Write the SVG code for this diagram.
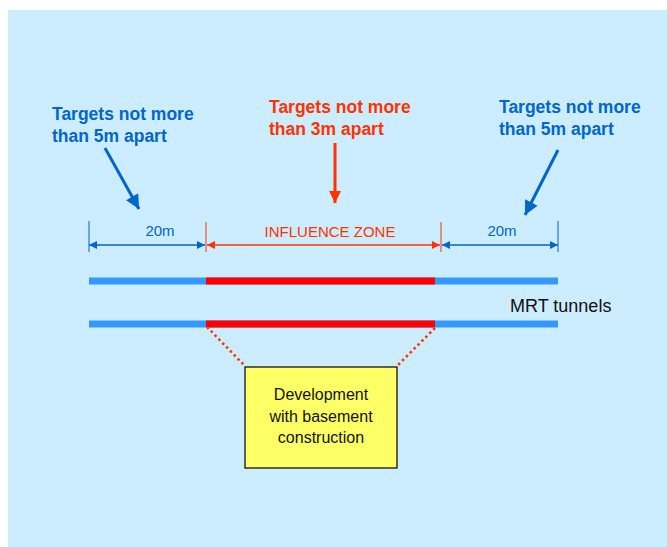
<svg xmlns="http://www.w3.org/2000/svg" width="667" height="547" viewBox="0 0 667 547">
<style>
.lbl{font-family:"Liberation Sans",Arial,sans-serif;font-weight:bold;font-size:17.5px}
.blue{fill:#0066CC}
.red{fill:#FF3300}
.dim{font-family:"Liberation Sans",Arial,sans-serif;font-size:15px}
.box{font-family:"Liberation Sans",Arial,sans-serif;font-size:16px;fill:#111;text-anchor:middle}
</style>
<defs>
<marker id="dbS" viewBox="0 0 10 10" refX="0" refY="5" markerWidth="8" markerHeight="8" markerUnits="userSpaceOnUse" orient="auto"><path d="M10,0 L0,5 L10,10 z" fill="#0066CC"/></marker>
<marker id="dbE" viewBox="0 0 10 10" refX="10" refY="5" markerWidth="8" markerHeight="8" markerUnits="userSpaceOnUse" orient="auto"><path d="M0,0 L10,5 L0,10 z" fill="#0066CC"/></marker>
<marker id="drS" viewBox="0 0 10 10" refX="0" refY="5" markerWidth="8" markerHeight="8" markerUnits="userSpaceOnUse" orient="auto"><path d="M10,0 L0,5 L10,10 z" fill="#FF3300"/></marker>
<marker id="drE" viewBox="0 0 10 10" refX="10" refY="5" markerWidth="8" markerHeight="8" markerUnits="userSpaceOnUse" orient="auto"><path d="M0,0 L10,5 L0,10 z" fill="#FF3300"/></marker>
<marker id="cb" viewBox="0 0 10 10" refX="10" refY="5" markerWidth="15" markerHeight="14" markerUnits="userSpaceOnUse" orient="auto"><path d="M0,0 L10,5 L0,10 z" fill="#0066CC"/></marker>
<marker id="cr" viewBox="0 0 10 10" refX="10" refY="5" markerWidth="14" markerHeight="12" markerUnits="userSpaceOnUse" orient="auto"><path d="M0,0 L10,5 L0,10 z" fill="#FF3300"/></marker>
</defs>
<rect x="8" y="10" width="659" height="537" fill="#CCECFF"/>

<g id="label-left">
<text class="lbl blue" x="52" y="120">Targets not more</text>
<text class="lbl blue" x="52" y="142">than 5m apart</text>
</g>
<g id="label-middle">
<text class="lbl red" x="269" y="113">Targets not more</text>
<text class="lbl red" x="269" y="135">than 3m apart</text>
</g>
<g id="label-right">
<text class="lbl blue" x="499" y="113">Targets not more</text>
<text class="lbl blue" x="499" y="135">than 5m apart</text>
</g>

<g id="tunnels">
<line x1="89" y1="281" x2="558" y2="281" stroke="#3399FF" stroke-width="7"/>
<line x1="206" y1="281" x2="435" y2="281" stroke="#FF0000" stroke-width="7"/>
<line x1="89" y1="324" x2="558" y2="324" stroke="#3399FF" stroke-width="7"/>
<line x1="206" y1="324" x2="435" y2="324" stroke="#FF0000" stroke-width="7"/>
<text x="510" y="312" font-family="'Liberation Sans',Arial,sans-serif" font-size="18" fill="#111">MRT tunnels</text>
</g>

<g id="development">
<rect x="245" y="367" width="152" height="101" fill="#FFFF66" stroke="#000" stroke-width="1.2"/>
<text class="box" x="321" y="400">Development</text>
<text class="box" x="321" y="422">with basement</text>
<text class="box" x="321" y="443">construction</text>
</g>

<g id="dimensions">
<line x1="89" y1="221" x2="89" y2="252" stroke="#0066CC" stroke-width="1"/>
<line x1="558" y1="221" x2="558" y2="252" stroke="#0066CC" stroke-width="1"/>
<line x1="206" y1="222" x2="206" y2="252" stroke="#FF3300" stroke-width="1"/>
<line x1="441" y1="222" x2="441" y2="252" stroke="#FF3300" stroke-width="1"/>
<line x1="89" y1="245" x2="205" y2="245" stroke="#0066CC" stroke-width="1.3" marker-start="url(#dbS)" marker-end="url(#dbE)"/>
<line x1="207" y1="245" x2="440" y2="245" stroke="#FF3300" stroke-width="1.3" marker-start="url(#drS)" marker-end="url(#drE)"/>
<line x1="442" y1="245" x2="558" y2="245" stroke="#0066CC" stroke-width="1.3" marker-start="url(#dbS)" marker-end="url(#dbE)"/>
<text class="dim blue" x="160" y="236" text-anchor="middle">20m</text>
<text class="dim red" x="330" y="237" text-anchor="middle">INFLUENCE ZONE</text>
<text class="dim blue" x="502" y="236" text-anchor="middle">20m</text>
</g>

<g id="connectors">
<line x1="105" y1="148" x2="139" y2="209" stroke="#0066CC" stroke-width="3" marker-end="url(#cb)"/>
<line x1="335" y1="143" x2="335" y2="203" stroke="#FF3300" stroke-width="3" marker-end="url(#cr)"/>
<line x1="558" y1="150" x2="525" y2="215" stroke="#0066CC" stroke-width="3" marker-end="url(#cb)"/>
<line x1="207" y1="327" x2="245" y2="366" stroke="#FF3300" stroke-width="2.5" stroke-dasharray="2.5 3"/>
<line x1="435" y1="328" x2="397" y2="366" stroke="#FF3300" stroke-width="2.5" stroke-dasharray="2.5 3"/>
</g>
</svg>
